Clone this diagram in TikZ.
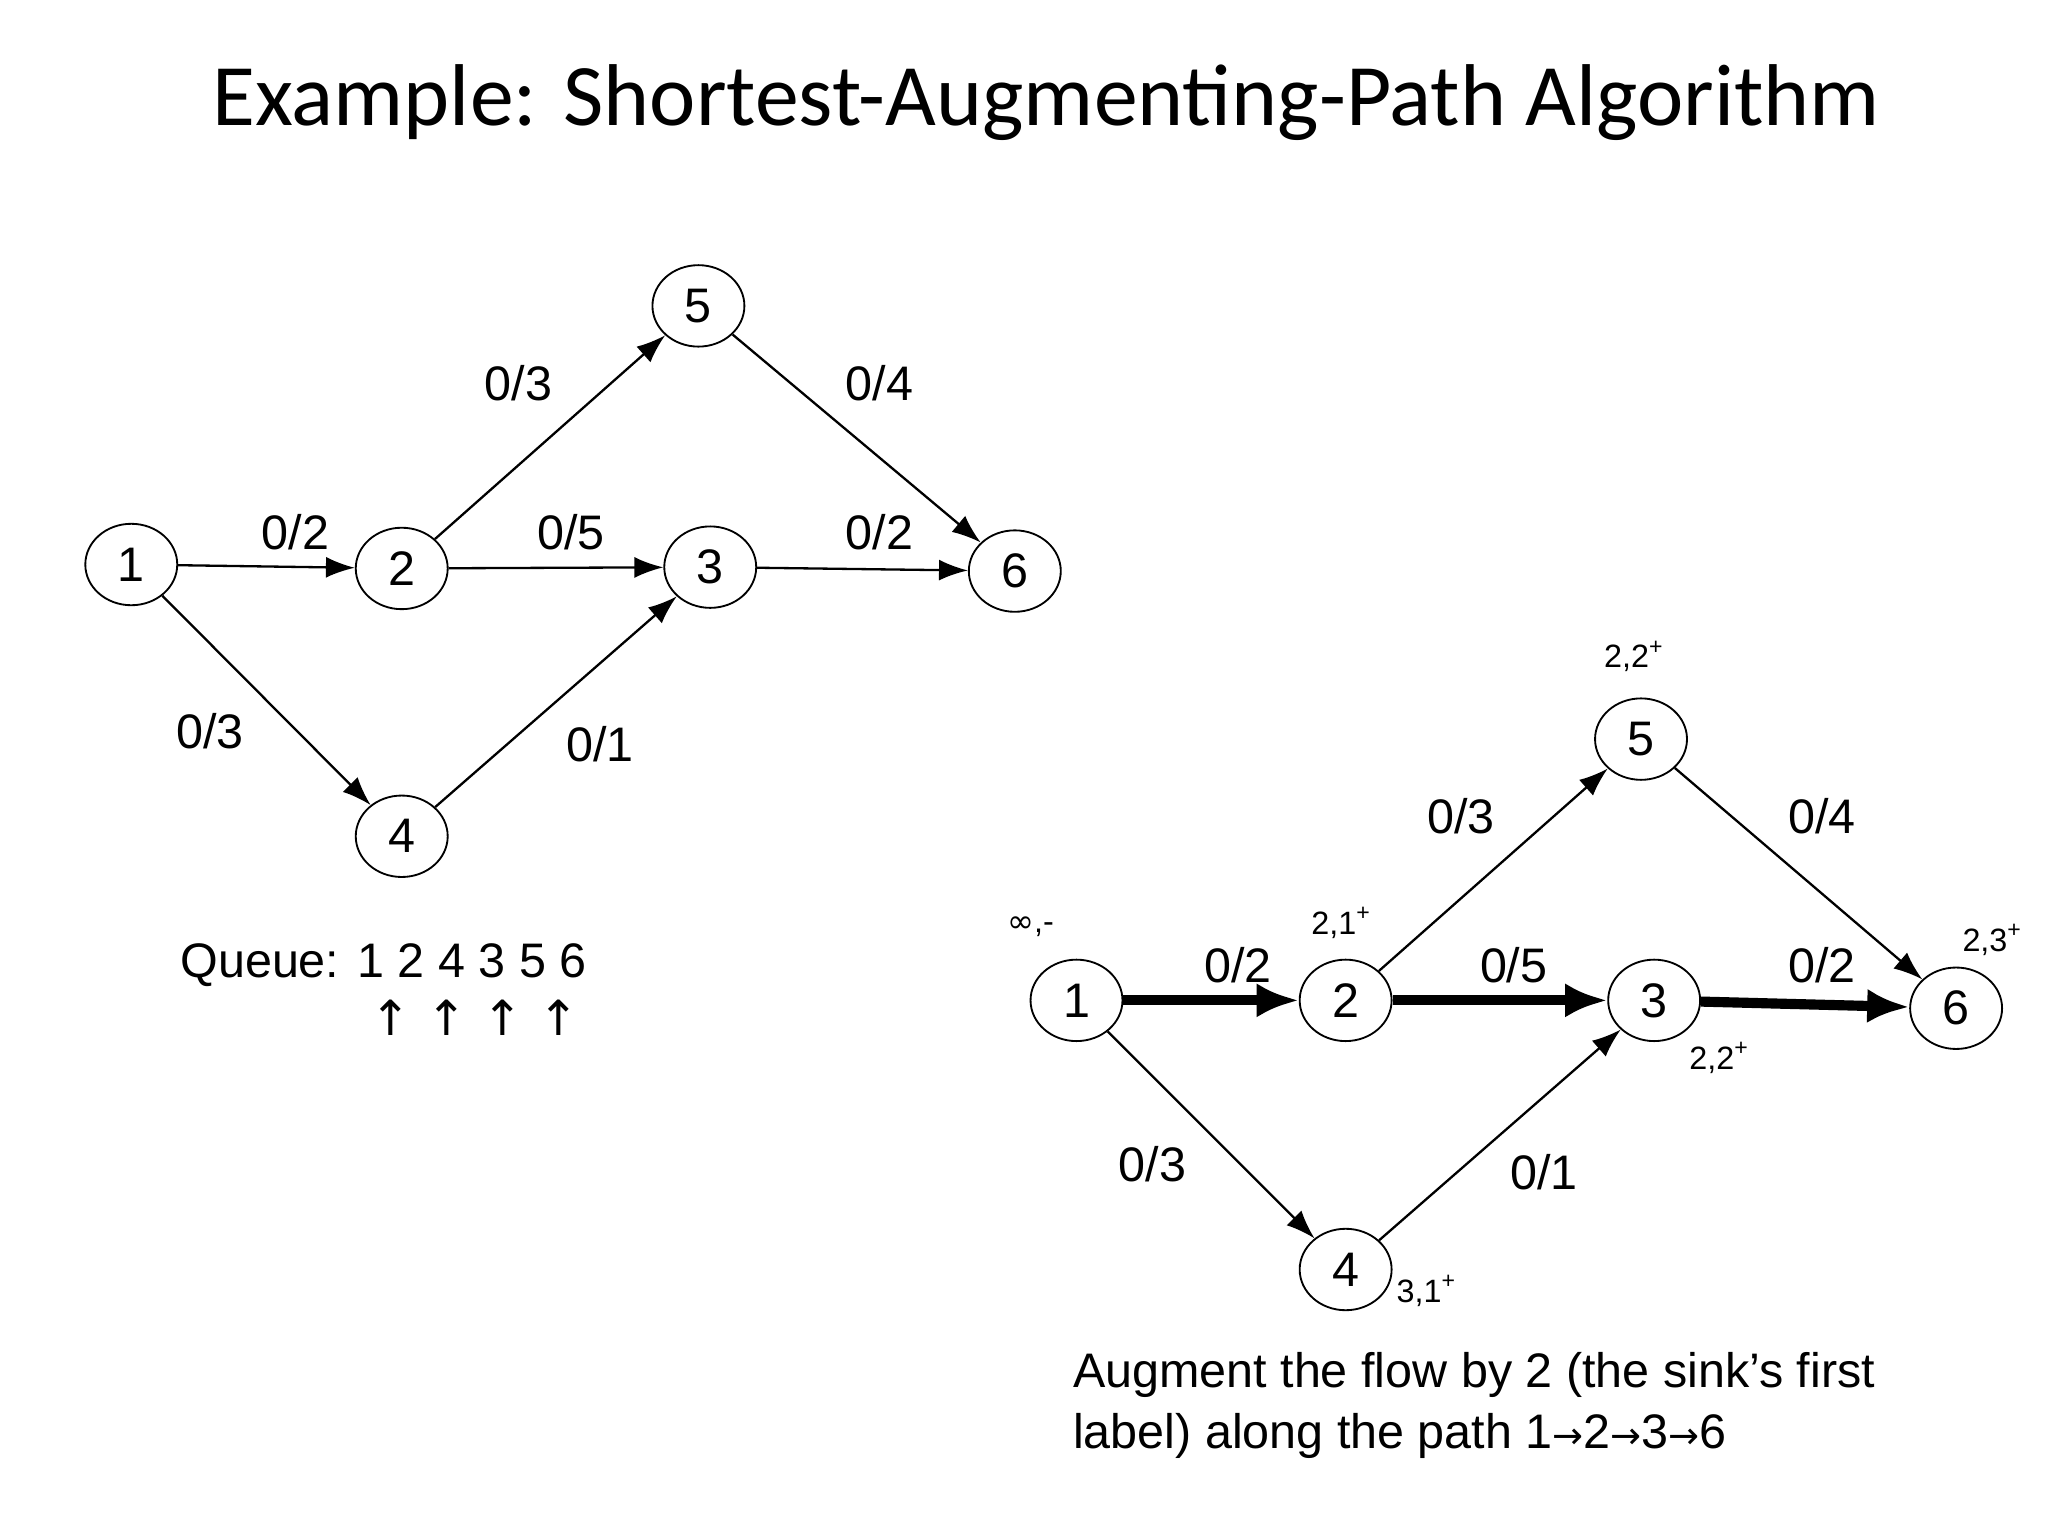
\documentclass[tikz,border=0pt]{standalone}
\usepackage{fontspec}
\setmainfont{Liberation Sans}
\newfontfamily\titlefont{Carlito}
\newfontfamily\symfont{DejaVu Sans}
\usetikzlibrary{arrows.meta,shapes.geometric}
\begin{document}
\begin{tikzpicture}[x=0.01cm,y=-0.01cm,
  vtx/.style={draw,ellipse,minimum width=0.7cm,minimum height=0.62cm,inner sep=0pt,font=\fontsize{10.5}{12}\selectfont},
  edge/.style={-{Latex[length=2.2mm,width=1.6mm]},line width=0.5pt},
  thick edge/.style={-{Latex[length=3.2mm,width=2.6mm]},line width=2.2pt},
  lbl/.style={font=\fontsize{10.5}{12}\selectfont},
  sml/.style={font=\fontsize{7}{8}\selectfont}]
\useasboundingbox (0,0) rectangle (1560,1170);
\node[font=\titlefont\fontsize{19}{22}\selectfont] (title) at (797,78) {Example: Shortest-Augmenting-Path Algorithm};
% left graph
\node[vtx] (a1) at (100,430) {1};
\node[vtx] (a2) at (306,433) {2};
\node[vtx] (a3) at (541,432) {3};
\node[vtx] (a4) at (306,637) {4};
\node[vtx] (a5) at (532,233) {5};
\node[vtx] (a6) at (773,435) {6};
\draw[edge] (a1) -- (a2);
\draw[edge] (a2) -- (a3);
\draw[edge] (a3) -- (a6);
\draw[edge] (a1) -- (a4);
\draw[edge] (a4) -- (a3);
\draw[edge] (a2) -- (a5);
\draw[edge] (a5) -- (a6);
\node[lbl] (l1) at (225,405) {0/2};
\node[lbl] (l2) at (435,405) {0/5};
\node[lbl] (l3) at (670,405) {0/2};
\node[lbl] (l4) at (395,292) {0/3};
\node[lbl] (l5) at (670,292) {0/4};
\node[lbl] (l6) at (160,557) {0/3};
\node[lbl] (l7) at (457,567) {0/1};
\node[lbl,anchor=west] (queue) at (125,735) {Queue: 1 2 4 3 5 6};
\node[lbl,anchor=west] (qarr) at (270,775) {\symfont\fontsize{10.5}{12}\selectfont ↑ ↑ ↑ ↑};
% right graph
\node[vtx] (b1) at (820,762) {1};
\node[vtx] (b2) at (1025,762) {2};
\node[vtx] (b3) at (1260,762) {3};
\node[vtx] (b4) at (1025,967) {4};
\node[vtx] (b5) at (1250,563) {5};
\node[vtx] (b6) at (1490,768) {6};
\draw[thick edge] (b1) -- (b2);
\draw[thick edge] (b2) -- (b3);
\draw[thick edge] (b3) -- (b6);
\draw[edge] (b1) -- (b4);
\draw[edge] (b4) -- (b3);
\draw[edge] (b2) -- (b5);
\draw[edge] (b5) -- (b6);
\node[lbl] (m1) at (943,735) {0/2};
\node[lbl] (m2) at (1153,735) {0/5};
\node[lbl] (m3) at (1388,735) {0/2};
\node[lbl] (m4) at (1113,622) {0/3};
\node[lbl] (m5) at (1388,622) {0/4};
\node[lbl] (m6) at (878,887) {0/3};
\node[lbl] (m7) at (1176,893) {0/1};
\node[sml] (s1) at (785,706) {{\symfont ∞},-};
\node[sml] (s2) at (1022,703) {2,1\textsuperscript{+}};
\node[sml] (s3) at (1245,500) {2,2\textsuperscript{+}};
\node[sml] (s4) at (1310,806) {2,2\textsuperscript{+}};
\node[sml] (s5) at (1518,716) {2,3\textsuperscript{+}};
\node[sml] (s6) at (1087,983) {3,1\textsuperscript{+}};
\node[lbl,anchor=north west,align=left,font=\fontsize{10.5}{13.2}\selectfont] (aug) at (805,1018)
  {Augment the flow by 2 (the sink’s first\\label) along the path 1{\symfont\fontsize{8}{10}\selectfont →}2{\symfont\fontsize{8}{10}\selectfont →}3{\symfont\fontsize{8}{10}\selectfont →}6};
\end{tikzpicture}
\end{document}
